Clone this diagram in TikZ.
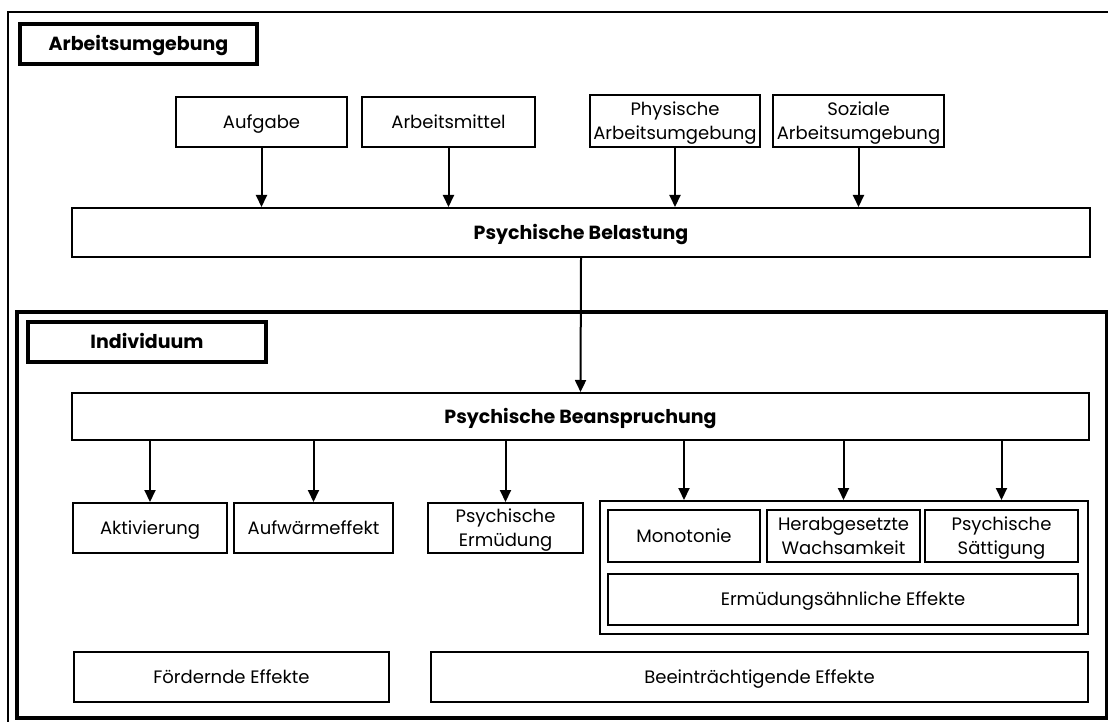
\documentclass[tikz,border=0pt]{standalone}
\usepackage{fontspec}
\setmainfont{Poppins}
\usetikzlibrary{arrows.meta}

\begin{document}
\begin{tikzpicture}[x=1pt,y=-1pt,
  box/.style={draw,line width=2pt,align=center,inner sep=0pt,font=\fontsize{18}{24}\selectfont,
    text height=12.5pt,text depth=0pt},
  twoline/.style={box,text height=36.5pt},
  headbox/.style={box,font=\bfseries\fontsize{19}{24}\selectfont,text height=13pt},
  labelbox/.style={draw,line width=3.6pt,inner sep=0pt,font=\bfseries\fontsize{19}{24}\selectfont,
    text height=13pt,text depth=0pt},
  flow/.style={-{Triangle[length=12pt,width=11pt]},line width=2pt}]
  \useasboundingbox (0,0) rectangle (1108,722);
  \clip (0,0) rectangle (1108,722);

  % frames
  \draw[line width=2.4pt] (8,12) rectangle (1130,760);
  \draw[line width=3.4pt] (17,312) rectangle (1107,718);
  \node[labelbox,minimum width=237,minimum height=40] (arbumg) at (138.5,44) {Arbeitsumgebung};
  \node[labelbox,minimum width=238,minimum height=40] (indiv) at (147,342) {Individuum};

  % Arbeitsumgebung
  \node[box,minimum width=171,minimum height=50] (aufgabe) at (261.5,122) {Aufgabe};
  \node[box,minimum width=173,minimum height=50] (mittel) at (448.5,122) {Arbeitsmittel};
  \node[twoline,minimum width=170,minimum height=52] (physisch) at (675,121) {Physische\\Arbeitsumgebung};
  \node[twoline,minimum width=171,minimum height=52] (sozial) at (858.5,121) {Soziale\\Arbeitsumgebung};
  \node[headbox,minimum width=1018,minimum height=49] (belast) at (581,232.5) {Psychische Belastung};

  \foreach \n in {aufgabe,mittel,physisch,sozial}
    \draw[flow] (\n.south) -- (\n |- belast.north);

  % Individuum
  \node[headbox,minimum width=1017,minimum height=47] (beans) at (580.5,416.5) {Psychische Beanspruchung};
  \draw[flow] (belast.south) -- (beans.north);

  \node[box,minimum width=154,minimum height=50] (aktiv) at (150,528) {Aktivierung};
  \node[box,minimum width=159,minimum height=50] (aufwarm) at (313.5,528) {Aufwärmeffekt};
  \node[twoline,minimum width=155,minimum height=50] (ermued) at (505.5,528) {Psychische\\Ermüdung};

  \node[draw,line width=2pt,minimum width=488,minimum height=133,inner sep=0pt] (gruppe) at (844,567.5) {};
  \node[box,minimum width=152,minimum height=52] (monot) at (684,536) {Monotonie};
  \node[twoline,minimum width=153,minimum height=52] (wachs) at (843.5,536) {Herabgesetzte\\Wachsamkeit};
  \node[twoline,minimum width=153,minimum height=52] (saett) at (1001.5,536) {Psychische\\Sättigung};
  \node[box,minimum width=470,minimum height=51] (aehnl) at (843,599.5) {Ermüdungsähnliche Effekte};

  \foreach \n in {aktiv,aufwarm,ermued}
    \draw[flow] (\n |- beans.south) -- (\n.north);
  \foreach \n in {monot,wachs,saett}
    \draw[flow] (\n |- beans.south) -- (\n |- gruppe.north);

  \node[box,minimum width=315,minimum height=50] (foerd) at (231.5,677) {Fördernde Effekte};
  \node[box,minimum width=657,minimum height=50] (beeintr) at (759.5,677) {Beeinträchtigende Effekte};
\end{tikzpicture}
\end{document}
